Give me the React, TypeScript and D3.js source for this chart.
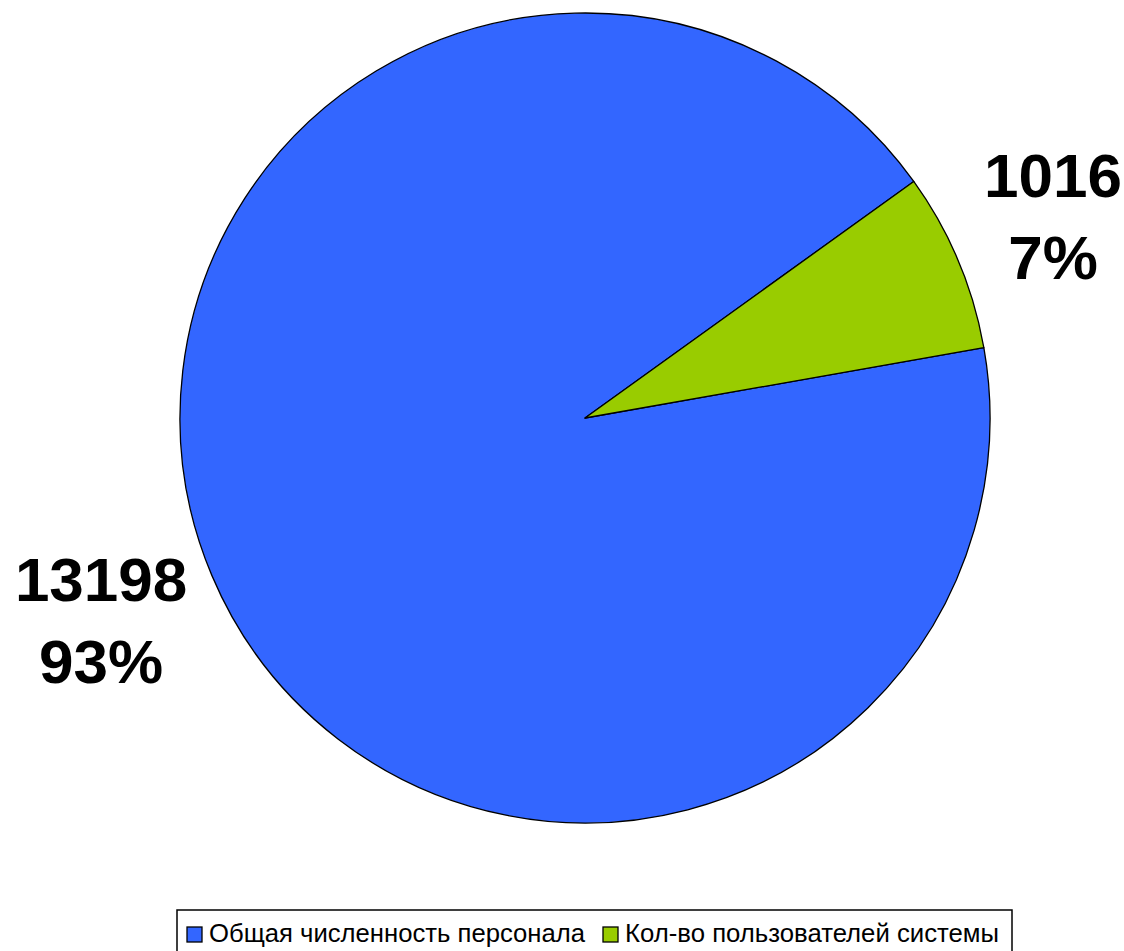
import React, { useEffect, useRef } from 'react';
import * as d3 from 'd3';

// chart data
const categories = ['Общая численность персонала', 'Кол-во пользователей системы'];
const values = [13198, 1016];
const colors = ['#3366FF', '#99CC00'];

const width = 1124;
const height = 951;

const App: React.FC = () => {
    const svgRef = useRef<SVGSVGElement | null>(null);

    useEffect(() => {
        const svg = d3.select(svgRef.current);
        svg.selectAll('*').remove();

        const cx = 585;
        const cy = 418;
        const radius = 405;
        const total = d3.sum(values);
        const pct = d3.format('.0%');

        const pie = d3
            .pie<number>()
            .sort(null)
            .value((d) => d)
            .startAngle((80 * Math.PI) / 180)
            .endAngle((80 * Math.PI) / 180 + 2 * Math.PI);

        const arc = d3.arc<d3.PieArcDatum<number>>().innerRadius(0).outerRadius(radius);
        const arcs = pie(values);

        const g = svg.append('g').attr('transform', `translate(${cx},${cy})`);

        g.selectAll('path.slice')
            .data(arcs)
            .enter()
            .append('path')
            .attr('class', 'slice')
            .attr('d', arc)
            .attr('fill', (_, i) => colors[i])
            .attr('stroke', '#000')
            .attr('stroke-width', 1.3)
            .attr('stroke-linejoin', 'round');

        // data labels: value + percent, box placed just outside the pie
        const fontSize = 62;
        const lineGap = 82;
        const capH = fontSize * 0.716;
        const pad = 34;
        const extraY = 18;
        arcs.forEach((a, i) => {
            const mid = (a.startAngle + a.endAngle) / 2;
            const s = Math.sin(mid);
            const c = Math.cos(mid);
            const line1 = d3.format('d')(values[i]);
            const line2 = pct(values[i] / total);
            const w = Math.max(line1.length, line2.length) * fontSize * 0.556;
            const h = capH + lineGap;
            const ax = (radius + pad) * s;
            const ay = -(radius + pad) * c;
            const bx = ax + (s * w) / 2;
            const by = ay - c * (h / 2 + extraY);
            const t = g
                .append('text')
                .attr('text-anchor', 'middle')
                .attr('font-family', '"Liberation Sans", Arial, sans-serif')
                .attr('font-weight', 'bold')
                .attr('font-size', fontSize)
                .attr('fill', '#000');
            t.append('tspan').attr('x', bx).attr('y', by - h / 2 + capH).text(line1);
            t.append('tspan').attr('x', bx).attr('y', by + h / 2).text(line2);
        });

        // legend
        const legend = svg.append('g');
        legend
            .append('rect')
            .attr('x', 177)
            .attr('y', 910)
            .attr('width', 835)
            .attr('height', 60)
            .attr('fill', '#fff')
            .attr('stroke', '#000')
            .attr('stroke-width', 1.5);

        const itemX = [187, 603];
        const textW = [376, 374];
        categories.forEach((name, i) => {
            legend
                .append('rect')
                .attr('x', itemX[i])
                .attr('y', 927)
                .attr('width', 15)
                .attr('height', 15)
                .attr('fill', colors[i])
                .attr('stroke', '#000')
                .attr('stroke-width', 1.3);
            legend
                .append('text')
                .attr('x', itemX[i] + 22)
                .attr('y', 942)
                .attr('font-family', '"Liberation Sans", Arial, sans-serif')
                .attr('font-size', 25)
                .attr('textLength', textW[i])
                .attr('lengthAdjust', 'spacingAndGlyphs')
                .attr('fill', '#000')
                .text(name);
        });
    }, []);

    return (
        <svg
            ref={svgRef}
            width={width}
            height={height}
            style={{ position: 'absolute', left: 0, top: 0, background: '#fff' }}
        ></svg>
    );
};

export default App;
